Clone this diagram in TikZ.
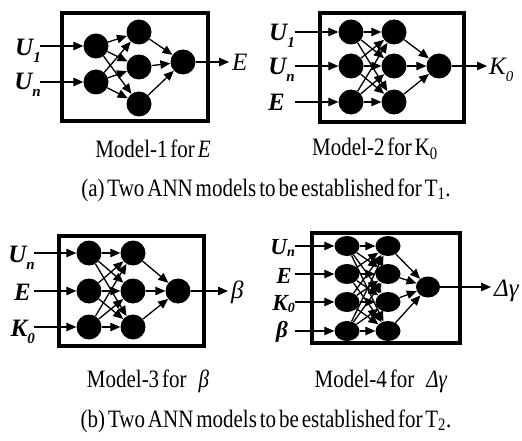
\documentclass[tikz,border=0pt]{standalone}
\usepackage{fontspec}
\setmainfont{Liberation Serif}
\newfontfamily\capfont[FakeStretch=0.84,WordSpace=0.55]{Liberation Serif}
\usetikzlibrary{arrows.meta,shapes.geometric}
\newcommand{\lsub}[1]{\raisebox{-0.28em}{\fontsize{15}{15}\selectfont #1}}
\newcommand{\ssub}[1]{\raisebox{-0.12em}{\fontsize{14}{14}\selectfont #1}}
\tikzset{
  neuron/.style={circle,fill=black,inner sep=0pt,minimum size=25pt},
  eneuron/.style={ellipse,fill=black,inner sep=0pt,minimum width=25pt,minimum height=20pt},
  conn/.style={line width=1.3pt,-{Triangle[length=10pt,width=8.5pt]}},
  frame/.style={draw,line width=3.5pt,inner sep=0pt},
  lab/.style={font=\fontsize{25}{25}\selectfont\bfseries\itshape,inner sep=0pt},
  slab/.style={font=\fontsize{23}{23}\selectfont\bfseries\itshape,inner sep=0pt},
  olab/.style={font=\fontsize{25}{25}\selectfont\itshape,inner sep=0pt},
  captext/.style={font=\fontsize{25}{25}\selectfont\capfont,inner sep=0pt},
}
\begin{document}
\begin{tikzpicture}[x=1pt,y=-1pt]
\useasboundingbox (0,0) rectangle (522,441);
% ---------- Model 1 ----------
\node[frame,minimum width=146pt,minimum height=108pt] (box1) at (135,67) {};
\node[neuron] (m1i1) at (96,46) {};
\node[neuron] (m1i2) at (96,82) {};
\node[neuron] (m1h1) at (139,32) {};
\node[neuron] (m1h2) at (139,67) {};
\node[neuron] (m1h3) at (139,104) {};
\node[neuron] (m1o) at (183,62) {};
\foreach \i in {1,2}{\foreach \j in {1,2,3}{\draw[conn] (m1i\i) -- (m1h\j);}}
\foreach \j in {1,2,3}{\draw[conn] (m1h\j) -- (m1o);}
\coordinate (m1s1) at (40,46);
\coordinate (m1s2) at (40,82);
\coordinate (m1t) at (229,62);
\draw[conn] (m1s1) -- (m1i1);
\draw[conn] (m1s2) -- (m1i2);
\draw[conn] (m1o) -- (m1t);
\node[lab,anchor=base east] (m1l1) at (41,56) {U\lsub{1}};
\node[lab,anchor=base east] (m1l2) at (41,90) {U\lsub{n}};
\node[olab,anchor=base west] (m1lo) at (232,71) {E};
\node[captext] (c1) at (153,149) {Model-1 for \textit{E}};
% ---------- Model 2 ----------
\node[frame,minimum width=144pt,minimum height=109pt] (box2) at (392,67.5) {};
\foreach \j/\y in {1/32,2/66,3/102}{
  \node[neuron] (m2i\j) at (351,\y) {};
  \node[neuron] (m2h\j) at (394,\y) {};
}
\node[neuron] (m2o) at (439,66) {};
\foreach \i in {1,2,3}{\foreach \j in {1,2,3}{\draw[conn] (m2i\i) -- (m2h\j);}}
\foreach \j in {1,2,3}{\draw[conn] (m2h\j) -- (m2o);}
\coordinate (m2s1) at (295,32);
\coordinate (m2s2) at (295,66);
\coordinate (m2s3) at (295,102);
\coordinate (m2t) at (487,66);
\foreach \j in {1,2,3}{\draw[conn] (m2s\j) -- (m2i\j);}
\draw[conn] (m2o) -- (m2t);
\node[lab,anchor=base east] (m2l1) at (295,41) {U\lsub{1}};
\node[lab,anchor=base east] (m2l2) at (295,75) {U\lsub{n}};
\node[lab,anchor=base east] (m2l3) at (285,111) {E};
\node[olab,anchor=base west] (m2lo) at (489,75) {K\lsub{0}};
\node[captext] (c2) at (375,149) {Model-2 for K\textsubscript{0}};
\node[captext] (ca) at (266,190) {(a) Two ANN models to be established for T\textsubscript{1}.};
% ---------- Model 3 ----------
\node[frame,minimum width=145pt,minimum height=110pt] (box3) at (131.5,291) {};
\foreach \j/\y in {1/253,2/291,3/327}{
  \node[neuron] (m3i\j) at (89,\y) {};
  \node[neuron] (m3h\j) at (133,\y) {};
}
\node[neuron] (m3o) at (178,291) {};
\foreach \i in {1,2,3}{\foreach \j in {1,2,3}{\draw[conn] (m3i\i) -- (m3h\j);}}
\foreach \j in {1,2,3}{\draw[conn] (m3h\j) -- (m3o);}
\coordinate (m3s1) at (34,253);
\coordinate (m3s2) at (34,291);
\coordinate (m3s3) at (34,327);
\coordinate (m3t) at (228,291);
\foreach \j in {1,2,3}{\draw[conn] (m3s\j) -- (m3i\j);}
\draw[conn] (m3o) -- (m3t);
\node[lab,anchor=base east] (m3l1) at (35,262) {U\lsub{n}};
\node[lab,anchor=base east] (m3l2) at (31,300) {E};
\node[lab,anchor=base east] (m3l3) at (35,336) {K\lsub{0}};
\node[olab,anchor=base west] (m3lo) at (231,298) {β};
\node[captext] (c3) at (148,381) {Model-3 for\hspace{12pt}\textit{β}};
% ---------- Model 4 ----------
\node[frame,minimum width=148pt,minimum height=110pt] (box4) at (386,288) {};
\foreach \j/\y in {1/246,2/274,3/302,4/331}{
  \node[eneuron] (m4i\j) at (347,\y) {};
  \node[eneuron] (m4h\j) at (388,\y) {};
}
\node[eneuron,minimum height=21pt,minimum width=24pt] (m4o) at (428,287) {};
\foreach \i in {1,2,3,4}{\foreach \j in {1,2,3,4}{\draw[conn] (m4i\i) -- (m4h\j);}}
\foreach \j in {1,2,3,4}{\draw[conn] (m4h\j) -- (m4o);}
\coordinate (m4s1) at (295,246);
\coordinate (m4s2) at (295,274);
\coordinate (m4s3) at (295,302);
\coordinate (m4s4) at (295,331);
\coordinate (m4t) at (491,287);
\foreach \j in {1,2,3,4}{\draw[conn] (m4s\j) -- (m4i\j);}
\draw[conn] (m4o) -- (m4t);
\node[slab,anchor=base east] (m4l1) at (295,254) {U\ssub{n}};
\node[slab,anchor=base east] (m4l2) at (292,283) {E};
\node[slab,anchor=base east] (m4l3) at (295,310) {K\ssub{0}};
\node[slab,anchor=base east] (m4l4) at (288,337) {β};
\node[olab,anchor=base west] (m4lo) at (494,296) {Δγ};
\node[captext] (c4) at (381,381) {Model-4 for\hspace{12pt}\textit{Δγ}};
\node[captext] (cb) at (266,421) {(b) Two ANN models to be established for T\textsubscript{2}.};
\end{tikzpicture}
\end{document}
